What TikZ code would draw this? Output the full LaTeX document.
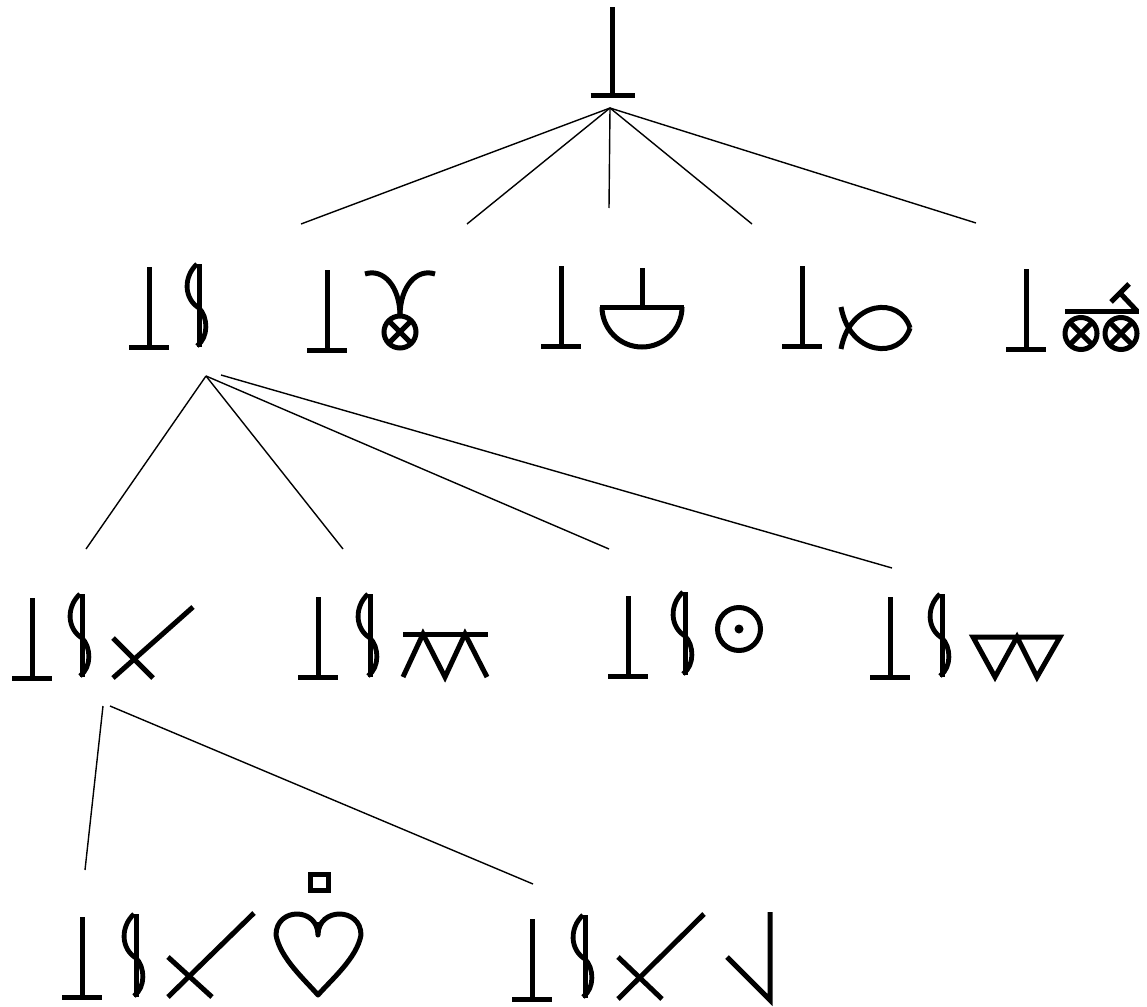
\documentclass[tikz,border=0pt]{standalone}
\begin{document}
\begin{tikzpicture}[x=1pt,y=-1pt,
  glyph/.style={line width=5pt},
  curvy/.style={line width=4.8pt},
  edge/.style={line width=1.4pt},
  perp/.pic={\draw[glyph] (0,0) -- (0,-80); \draw[glyph] (-20,0) -- (20,0);},
  esh/.pic={\draw[glyph] (0,-83) -- (0,0);
            \draw[curvy] (-2,-83) .. controls (-16,-70) and (-15,-48) .. (0,-39) .. controls (9,-30) and (10,-10) .. (-2,-1);},
  ocross/.pic={\draw[glyph] (0,0) circle[radius=16pt];
               \draw[glyph] (-11.3,-11.3) -- (11.3,11.3); \draw[glyph] (-11.3,11.3) -- (11.3,-11.3);}
]
\useasboundingbox (0,0) rectangle (1147,1006);

% ---------- root ----------
\pic[scale=1.1] at (612.5,95.5) {perp};
\coordinate (root) at (610,108);

% ---------- level 2 ----------
% a
\pic at (149,347) {perp};
\pic at (199,347) {esh};
\coordinate (a-n) at (301,224);
\coordinate (a-s) at (206,376);
\coordinate (a-s2) at (221,375);
% b
\pic at (327,350) {perp};
\pic at (400,332) {ocross};
\draw[glyph] (365,274) .. controls (383,268) and (400,286) .. (400,316);
\draw[glyph] (435,274) .. controls (417,268) and (400,286) .. (400,316);
\coordinate (b-n) at (467,224);
% c
\pic at (561,346) {perp};
\draw[glyph] (642,268) -- (642,307);
\draw[glyph] (600,307) -- (684,307);
\draw[glyph] (602,307) arc[start angle=180,end angle=360,radius=40pt];
\coordinate (c-n) at (609,208);
% d
\pic at (802,346) {perp};
\draw[glyph] (841,349) .. controls (850,300) and (900,296) .. (910,328);
\draw[glyph] (841,307) .. controls (850,356) and (900,360) .. (910,328);
\coordinate (d-n) at (752,224);
% e
\pic at (1026,349) {perp};
\pic at (1081,333.5) {ocross};
\pic at (1121,333.5) {ocross};
\draw[glyph] (1065,311) -- (1139,311);
\draw[glyph] (1137,311) -- (1120,293);
\draw[glyph] (1111,302) -- (1129,284);
\coordinate (e-n) at (976,223);

% ---------- level 3 ----------
% aa
\pic at (32,678) {perp};
\pic at (82,677) {esh};
\draw[glyph] (113,678) -- (193,607);
\draw[glyph] (113,638) -- (153,678);
\coordinate (aa-n) at (86,549);
\coordinate (aa-s) at (103,706);
\coordinate (aa-s2) at (110,706);
% ab
\pic at (318,677) {perp};
\pic at (370,677) {esh};
\draw[glyph] (403,634) -- (488,634);
\draw[glyph,line join=miter] (403,677) -- (423,634) -- (445,677) -- (465,634) -- (487,677);
\coordinate (ab-n) at (343,549);
% ac
\pic at (628,676) {perp};
\pic at (685,675) {esh};
\draw[glyph] (739,629) circle[radius=21.5pt];
\fill (739,629) circle[radius=4.5pt];
\coordinate (ac-n) at (609,549);
% ad
\pic at (890,677) {perp};
\pic at (942,677) {esh};
\draw[glyph,line join=miter] (973,637) -- (1060,637) -- (1037,677) -- (1017,637) -- (995,677) -- cycle;
\coordinate (ad-n) at (892,568);

% ---------- level 4 ----------
% aaa
\pic at (82,997) {perp};
\pic at (136,997) {esh};
\draw[glyph] (168,997) -- (254,913);
\draw[glyph] (168,957) -- (212,997);
\draw[glyph] (310,874) rectangle (328,890.5);
\draw[glyph,line join=round] (318,935) .. controls (318,907) and (276,907) .. (276,935)
   .. controls (280,958) and (305,980) .. (318,995)
   .. controls (331,980) and (357,958) .. (361,935)
   .. controls (361,907) and (318,907) .. (318,935) -- (318,922);
\coordinate (aaa-n) at (85,870);
% aab
\pic at (532,999) {perp};
\pic at (585,998) {esh};
\draw[glyph] (618,999) -- (704,914);
\draw[glyph] (618,957) -- (662,999);
\draw[glyph,line join=miter] (727,957) -- (770,1000) -- (770,912);
\coordinate (aab-n) at (533,884);

% ---------- connectors ----------
\draw[edge] (root) -- (a-n);
\draw[edge] (root) -- (b-n);
\draw[edge] (root) -- (c-n);
\draw[edge] (root) -- (d-n);
\draw[edge] (root) -- (e-n);
\draw[edge] (a-s) -- (aa-n);
\draw[edge] (a-s) -- (ab-n);
\draw[edge] (a-s) -- (ac-n);
\draw[edge] (a-s2) -- (ad-n);
\draw[edge] (aa-s) -- (aaa-n);
\draw[edge] (aa-s2) -- (aab-n);
\end{tikzpicture}
\end{document}
